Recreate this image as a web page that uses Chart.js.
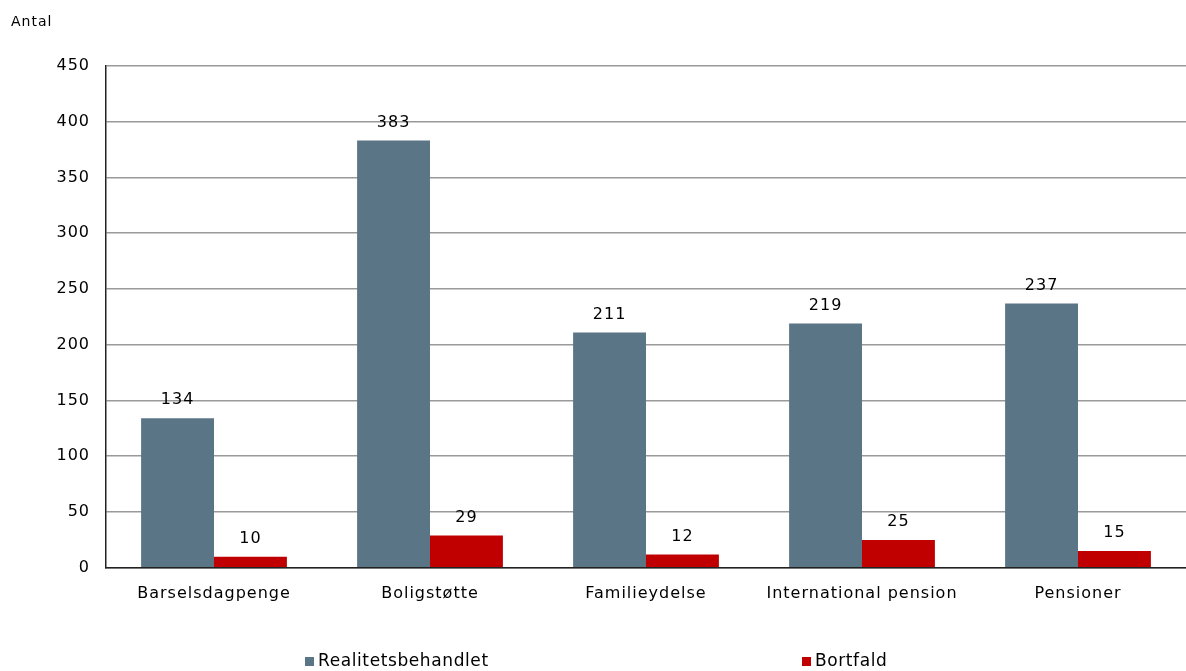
<!DOCTYPE html>
<html>
<head>
<meta charset="utf-8">
<script src="https://cdn.jsdelivr.net/npm/chart.js@4"></script>
<style>
    body { margin: 0; background: #fff; }
    #wrap { position: relative; width: 1186px; height: 671px; }
    .legend { position: absolute; top: 650px; font: 17px "DejaVu Sans", Verdana, sans-serif; letter-spacing: 0.6px; color: #000; white-space: nowrap; }
    .legend span { display: inline-block; width: 9px; height: 9px; margin-right: 4px; }
</style>
</head>
<body>
<div id="wrap">
    <canvas id="sagerChart"></canvas>
    <div class="legend" style="left: 305px;"><span style="background:#5a7586"></span>Realitetsbehandlet</div>
    <div class="legend" style="left: 802px;"><span style="background:#c00000"></span>Bortfald</div>
</div>
<script>
const kategorier = ['Barselsdagpenge', 'Boligstøtte', 'Familieydelse', 'International pension', 'Pensioner'];
const realitetsbehandlet = [134, 383, 211, 219, 237];
const bortfald = [10, 29, 12, 25, 15];

// lidt ekstra luft mellem bogstaverne
const spacing = {
    id: 'spacing',
    beforeLayout(chart) { chart.ctx.letterSpacing = '1px'; },
    beforeDraw(chart) { chart.ctx.letterSpacing = '1px'; }
};

// tal over søjlerne
const dataLabels = {
    id: 'dataLabels',
    afterDatasetsDraw(chart) {
        const ctx = chart.ctx;
        ctx.save();
        ctx.font = '16px "DejaVu Sans", Verdana, sans-serif';
        ctx.fillStyle = '#000';
        ctx.textAlign = 'center';
        ctx.textBaseline = 'bottom';
        chart.data.datasets.forEach((ds, i) => {
            chart.getDatasetMeta(i).data.forEach((bar, j) => {
                ctx.fillText(ds.data[j], bar.x, bar.y - 10);
            });
        });
        ctx.restore();
    }
};

Chart.defaults.font.family = '"DejaVu Sans", Verdana, sans-serif';
Chart.defaults.color = '#000';

new Chart(document.getElementById('sagerChart'), {
    type: 'bar',
    data: {
        labels: kategorier,
        datasets: [
            {
                label: 'Realitetsbehandlet',
                backgroundColor: '#5a7586',
                data: realitetsbehandlet
            },
            {
                label: 'Bortfald',
                backgroundColor: '#c00000',
                data: bortfald
            }
        ]
    },
    options: {
        responsive: true,
        maintainAspectRatio: false,
        animation: false,
        datasets: {
            bar: {
                categoryPercentage: 0.675,
                barPercentage: 1.0
            }
        },
        layout: {
            padding: { left: 11, right: 0, top: 0, bottom: 60 }
        },
        plugins: {
            title: {
                display: true,
                text: 'Antal',
                align: 'start',
                font: { size: 14, weight: 'normal' },
                padding: { top: 14, bottom: 35 }
            },
            legend: { display: false },
            tooltip: { enabled: false }
        },
        scales: {
            x: {
                grid: { display: false },
                border: { color: '#222', width: 1.5 },
                ticks: { font: { size: 16 }, padding: 8 }
            },
            y: {
                min: 0,
                max: 450,
                ticks: { stepSize: 50, font: { size: 16 }, padding: 16 },
                grid: { color: '#999', lineWidth: 1.5, drawTicks: false },
                border: { color: '#222', width: 1.5 },
                afterFit(scale) { scale.width = 95; }
            }
        }
    },
    plugins: [spacing, dataLabels]
});
</script>
</body>
</html>
